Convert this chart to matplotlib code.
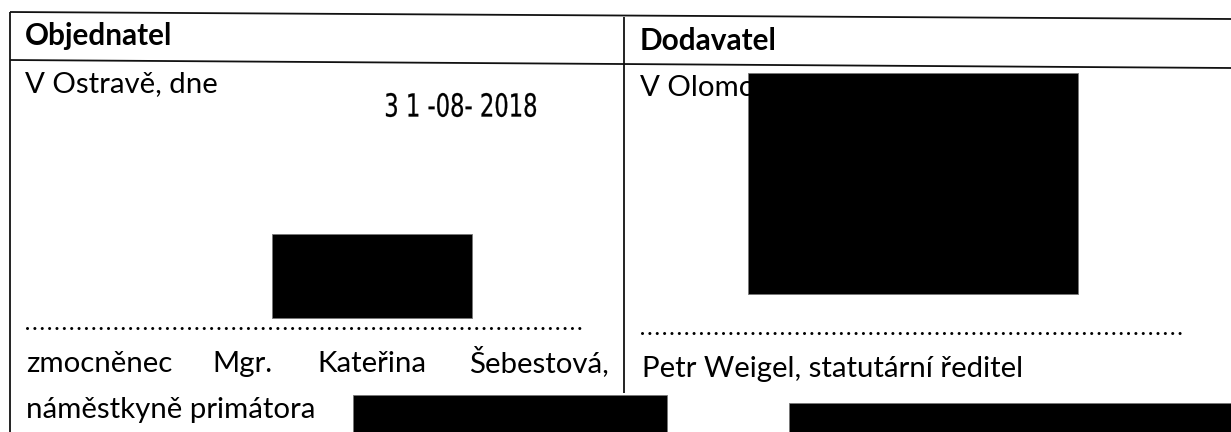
import matplotlib
matplotlib.use("Agg")
import matplotlib.pyplot as plt
import matplotlib.patches as patches
from matplotlib.textpath import TextPath
from matplotlib.font_manager import FontProperties
from matplotlib.transforms import Affine2D

W, H = 1231, 432

# texts of the signature table
headers = ["Objednatel", "Dodavatel"]
place_left = "V Ostravě, dne"
place_right = "V Olomc"
date_stamp = "3 1 -08- 2018"
signer_left_words = ["zmocněnec", "Mgr.", "Kateřina", "Šebestová,"]
signer_left_2 = "náměstkyně primátora"
signer_right = "Petr Weigel, statutární ředitel"

# redacted areas (x0, y0, x1, y1) in pixels
redactions = [(272, 234, 472, 318), (748, 73, 1078, 294),
              (353, 395, 667, 432), (789, 403, 1231, 432)]

fig = plt.figure(figsize=(W / 100, H / 100), dpi=100)
ax = fig.add_axes([0, 0, 1, 1])
ax.set_xlim(0, W)
ax.set_ylim(H, 0)
ax.axis("off")

FONT = "Lato"
renderer = fig.canvas.get_renderer()


def fit_size(s, width, **kw):
    # find font size that gives the wanted pixel width
    t = ax.text(0, 0, s, fontsize=20, family=FONT, **kw)
    w = t.get_window_extent(renderer).width
    t.remove()
    return 20 * width / w


body = fit_size(signer_right, 383)
bold = fit_size(headers[0], 148, weight="bold")

# table rules
ln = dict(color="#111111", lw=1.3, solid_capstyle="butt")
ax.plot([10, W], [12, 19], **ln)
ax.plot([10, W], [60, 68], **ln)
ax.plot([10, 10], [12, H], **ln)
ax.plot([624, 624], [17, 393], **ln)

# headers
ax.text(25, 45, headers[0], fontsize=bold, family=FONT, weight="bold", va="baseline")
ax.text(640, 50, headers[1], fontsize=bold, family=FONT, weight="bold", va="baseline")

# place
ax.text(25, 92, place_left, fontsize=body, family=FONT, va="baseline")
ax.text(640, 96, place_right, fontsize=body, family=FONT, va="baseline")

# date stamp: narrow tall digits, squeezed into the stamp box
tp = TextPath((0, 0), date_stamp, size=10,
              prop=FontProperties(family=["Liberation Sans Narrow", "DejaVu Sans"]))
ext = tp.get_extents()
tr = (Affine2D().translate(-ext.x0, -ext.y0)
      .scale(150 / ext.width, -24 / ext.height).translate(386, 117))
ax.add_patch(patches.PathPatch(tr.transform_path(tp), facecolor="black",
                               edgecolor="black", lw=0.2))

# dotted signature rules
dot = dict(color="black", lw=2.2, linestyle=(0, (0.01, 2.4)), dash_capstyle="round")
ax.plot([27, 582], [328, 328], **dot)
ax.plot([642, 1183], [333, 333], **dot)

# signers
for word, x in zip(signer_left_words, [26, 212, 317, 469]):
    ax.text(x, 372, word, fontsize=body, family=FONT, va="baseline")
ax.text(26, 418, signer_left_2, fontsize=body, family=FONT, va="baseline")
ax.text(642, 377, signer_right, fontsize=body, family=FONT, va="baseline")

for x0, y0, x1, y1 in redactions:
    ax.add_patch(patches.Rectangle((x0, y0), x1 - x0, y1 - y0,
                                   facecolor="black", edgecolor="#777777", lw=0.6))

fig.savefig("out.png", dpi=100)
